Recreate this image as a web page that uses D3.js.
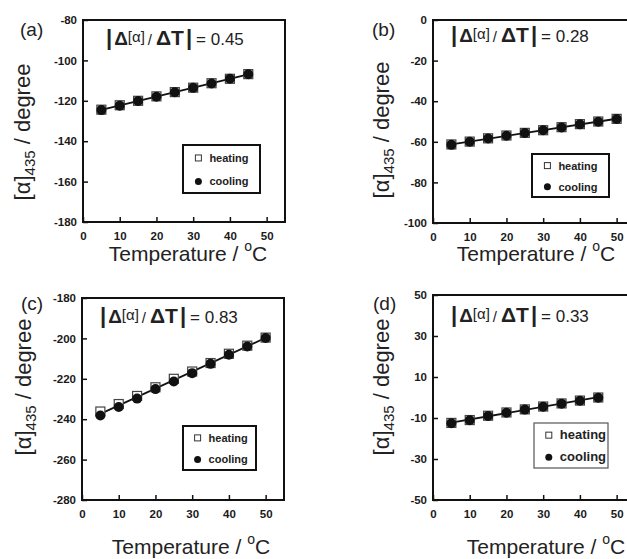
<!DOCTYPE html>
<html><head><meta charset="utf-8">
<script src="https://cdn.jsdelivr.net/npm/d3@7"></script>
<style>
html,body{margin:0;padding:0;background:#fff;}
svg{display:block;}
text{font-family:"Liberation Sans",Arial,Helvetica,sans-serif;}
</style></head>
<body>
<svg id="chart" width="627" height="559"></svg>
<script>
// ---------- data ----------
const temps9 = [5,10,15,20,25,30,35,40,45];
const temps10 = [5,10,15,20,25,30,35,40,45,50];
const aHeating = [-124.4,-122.2,-120.0,-117.8,-115.7,-113.5,-111.3,-109.1,-106.8];
const aCooling = [-124.6,-122.4,-120.1,-118.0,-115.8,-113.6,-111.4,-109.1,-106.9];
const bHeating = [-61.3,-59.9,-58.3,-56.9,-55.6,-54.3,-52.8,-51.3,-50.0,-48.7];
const bCooling = [-61.5,-60.0,-58.4,-57.0,-55.7,-54.3,-52.9,-51.4,-50.1,-48.8];
const cHeating = [-236.2,-232.5,-228.5,-224.2,-220.0,-216.4,-212.2,-207.6,-203.6,-199.6];
const cCooling = [-238.2,-234.0,-229.8,-225.1,-221.3,-217.2,-212.6,-208.1,-204.0,-199.8];
const dHeating = [-12.4,-11.0,-8.9,-7.3,-5.8,-4.4,-2.9,-1.5,0.0];
const dCooling = [-12.6,-11.1,-9.0,-7.4,-5.9,-4.5,-3.0,-1.6,-0.1];
const xTicks = [0,10,20,30,40,50];
const aTicks = [-180,-160,-140,-120,-100,-80];
const bTicks = [-100,-80,-60,-40,-20,0];
const cTicks = [-280,-260,-240,-220,-200,-180];
const dTicks = [-50,-30,-10,10,30,50];
const slopes = ["0.45","0.28","0.83","0.33"];
const panelLabels = ["(a)","(b)","(c)","(d)"];
const seriesNames = ["heating","cooling"];

// ---------- layout ----------
const panels = [
  {lab:panelLabels[0], t:temps9, h:aHeating, c:aCooling, yt:aTicks, slope:slopes[0],
   x0:83,x1:285,y0:20,y1:222, labX:20,labY:36, annX:106,annY:45, ylX:30, ylC:132, xlC:188, xlY:261,
   leg:{x:183,y:145,w:77,h:48,serif:false}},
  {lab:panelLabels[1], t:temps10, h:bHeating, c:bCooling, yt:bTicks, slope:slopes[1],
   x0:433,x1:635,y0:20,y1:223, labX:372,labY:36, annX:451,annY:42, ylX:389, ylC:130, xlC:536, xlY:261,
   leg:{x:532,y:154,w:77,h:43,serif:false}},
  {lab:panelLabels[2], t:temps10, h:cHeating, c:cCooling, yt:cTicks, slope:slopes[2],
   x0:82,x1:284,y0:298,y1:500, labX:21,labY:310, annX:100,annY:323, ylX:31, ylC:387, xlC:191, xlY:554,
   leg:{x:183,y:426,w:73,h:44,serif:false}},
  {lab:panelLabels[3], t:temps9, h:dHeating, c:dCooling, yt:dTicks, slope:slopes[3],
   x0:433,x1:635,y0:295,y1:500, labX:373,labY:310, annX:451,annY:322, ylX:389, ylC:387, xlC:546, xlY:554,
   leg:{x:534,y:423,w:74,h:45,serif:true}}
];

const svg = d3.select("#chart");

panels.forEach(p => {
  const g = svg.append("g");
  const x = d3.scaleLinear().domain([0,55]).range([p.x0,p.x1]);
  const y = d3.scaleLinear().domain([p.yt[0], p.yt[p.yt.length-1]]).range([p.y1,p.y0]);

  // axes with inward ticks
  const xa = g.append("g").attr("transform",`translate(0,${p.y1})`)
    .call(d3.axisBottom(x).tickValues(xTicks).tickSizeInner(-5).tickSizeOuter(0).tickPadding(10));
  const ya = g.append("g").attr("transform",`translate(${p.x0},0)`)
    .call(d3.axisLeft(y).tickValues(p.yt).tickSizeInner(-5).tickSizeOuter(0).tickPadding(6));
  [xa,ya].forEach(a => {
    a.select(".domain").remove();
    a.selectAll(".tick line").attr("stroke","#111").attr("stroke-width",1.5);
    a.selectAll(".tick text").attr("font-size",11.5).attr("font-weight","bold").attr("fill","#1a1a1a")
      .attr("font-family","Liberation Sans, Arial, sans-serif");
  });
  ya.selectAll(".tick text").text(d => String(d));

  // frame
  g.append("rect").attr("x",p.x0).attr("y",p.y0).attr("width",p.x1-p.x0).attr("height",p.y1-p.y0)
    .attr("fill","none").attr("stroke","#111").attr("stroke-width",2);

  // regression line
  const pts = p.t.map((t,i)=>[t,p.h[i]]).concat(p.t.map((t,i)=>[t,p.c[i]]));
  const mx = d3.mean(pts,d=>d[0]), my = d3.mean(pts,d=>d[1]);
  const slope = d3.sum(pts,d=>(d[0]-mx)*(d[1]-my))/d3.sum(pts,d=>(d[0]-mx)*(d[0]-mx));
  const fit = d3.extent(p.t).map(t=>[t, my+slope*(t-mx)]);
  g.append("path").datum(fit)
    .attr("d", d3.line().x(d=>x(d[0])).y(d=>y(d[1])))
    .attr("stroke","#111").attr("stroke-width",1.8).attr("fill","none");

  // heating squares
  g.selectAll(".sq").data(p.t.map((t,i)=>[t,p.h[i]])).join("rect")
    .attr("x",d=>x(d[0])-4.5).attr("y",d=>y(d[1])-4.5).attr("width",9).attr("height",9)
    .attr("fill","#fff").attr("stroke","#444").attr("stroke-width",1.2);
  // cooling circles
  g.selectAll(".ci").data(p.t.map((t,i)=>[t,p.c[i]])).join("circle")
    .attr("cx",d=>x(d[0])).attr("cy",d=>y(d[1])).attr("r",5)
    .attr("fill","#111");

  // panel label
  g.append("text").attr("x",p.labX).attr("y",p.labY).attr("font-size",19).attr("fill","#222").text(p.lab);

  // annotation |Δ[α] / ΔT| = k
  const ann = g.append("text").attr("x",p.annX).attr("y",p.annY).attr("fill","#222");
  ann.append("tspan").attr("font-size",22).attr("font-weight","bold").text("|");
  ann.append("tspan").attr("font-size",19).attr("font-weight","bold").attr("dx",2).text("Δ");
  ann.append("tspan").attr("font-size",15).attr("dy",-3).text("[α]");
  ann.append("tspan").attr("font-size",15).attr("dy",3).attr("dx",3).text("/");
  ann.append("tspan").attr("font-size",21).attr("font-weight","bold").attr("dx",4).text("ΔT");
  ann.append("tspan").attr("font-size",22).attr("font-weight","bold").attr("dx",2).text("|");
  ann.append("tspan").attr("font-size",17).attr("dx",4).text("= " + p.slope);

  // y-axis label (centered by measurement)
  const yl = g.append("text").attr("x",0).attr("y",0).attr("font-size",22).attr("fill","#222");
  yl.append("tspan").text("[α]");
  yl.append("tspan").attr("font-size",15).attr("dy",5).text("435");
  yl.append("tspan").attr("dy",-5).text(" / degree");
  const yw = yl.node().getComputedTextLength();
  yl.attr("x",-yw/2).attr("transform",`translate(${p.ylX},${p.ylC}) rotate(-90)`);

  // x-axis label (centered by measurement)
  const xl = g.append("text").attr("x",0).attr("y",p.xlY).attr("font-size",21).attr("fill","#222");
  xl.append("tspan").text("Temperature / ");
  xl.append("tspan").attr("font-size",14).attr("dy",-10).text("o");
  xl.append("tspan").attr("dy",10).text("C");
  const xw = xl.node().getComputedTextLength();
  xl.attr("x", p.xlC - xw/2);

  // legend
  const L = p.leg;
  const lg = g.append("g");
  lg.append("rect").attr("x",L.x).attr("y",L.y).attr("width",L.w).attr("height",L.h)
    .attr("fill","#fff").attr("stroke", L.serif ? "#555" : "#111").attr("stroke-width", L.serif ? 1.2 : 2);
  const rows = [L.y + L.h*0.27, L.y + L.h*0.76];
  const mxp = L.x + L.w*0.2;
  lg.append("rect").attr("x",mxp-3).attr("y",rows[0]-3).attr("width",6).attr("height",6)
    .attr("fill","#fff").attr("stroke","#333").attr("stroke-width",1);
  lg.append("circle").attr("cx",mxp).attr("cy",rows[1]).attr("r",3.5).attr("fill","#111");
  seriesNames.forEach((s,i) => {
    lg.append("text").attr("x",mxp+11).attr("y",rows[i]+4)
      .attr("font-size", L.serif ? 13 : 11).attr("font-weight","bold").attr("fill","#222")
      .attr("font-family", L.serif ? "Liberation Serif, Times New Roman, serif" : "Liberation Sans, Arial, sans-serif")
      .text(s);
  });
});
</script>
</body></html>
